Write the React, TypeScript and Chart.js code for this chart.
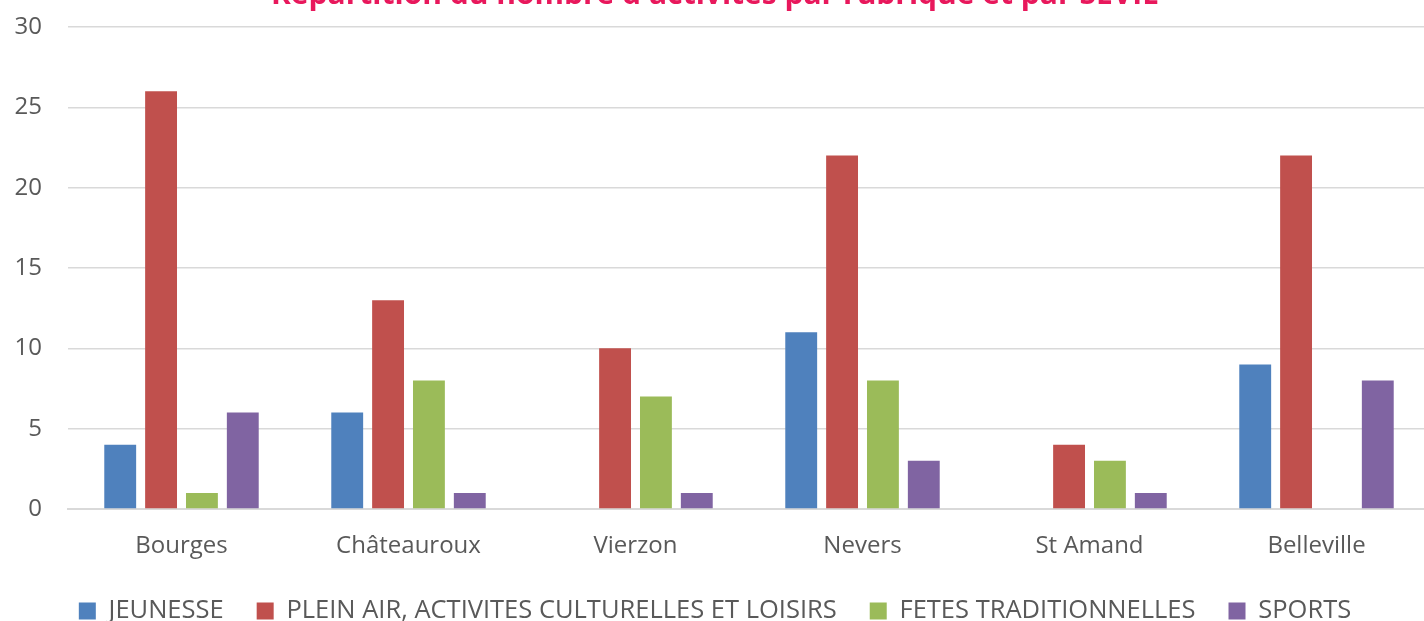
import React, { useEffect, useRef } from "react";
import { Chart, registerables } from "chart.js";

Chart.register(...registerables);

const categories = ["Bourges", "Châteauroux", "Vierzon", "Nevers", "St Amand", "Belleville"];
const jeunesse = [4, 6, 0, 11, 0, 9];
const pleinAir = [26, 13, 10, 22, 4, 22];
const fetes = [1, 8, 7, 8, 3, 0];
const sports = [6, 1, 1, 3, 1, 8];
const seriesNames = [
  "JEUNESSE",
  "PLEIN AIR, ACTIVITES CULTURELLES ET LOISIRS",
  "FETES TRADITIONNELLES",
  "SPORTS",
];
const titleText = "Répartition du nombre d'activités par rubrique et par SEVIE";

export default function App() {
  const ref = useRef<HTMLCanvasElement>(null);
  useEffect(() => {
    if (!ref.current) return;
    const font = "'Open Sans', sans-serif";
    const chart = new Chart(ref.current, {
      type: "bar",
      data: {
        labels: categories,
        datasets: [
          { label: seriesNames[0], data: jeunesse, backgroundColor: "#4F81BD" },
          { label: seriesNames[1], data: pleinAir, backgroundColor: "#C0504D" },
          { label: seriesNames[2], data: fetes, backgroundColor: "#9BBB59" },
          { label: seriesNames[3], data: sports, backgroundColor: "#8064A2" },
        ],
      },
      options: {
        animation: false,
        responsive: false,
        maintainAspectRatio: false,
        layout: { padding: { left: 0, right: 2, top: 0, bottom: -12.75 } },
        datasets: { bar: { barPercentage: 0.78, categoryPercentage: 0.72 } },
        plugins: {
          title: {
            display: true,
            text: titleText,
            color: "#E8185C",
            font: { family: font, size: 30, weight: "bold" },
            padding: { top: 7, bottom: 14 },
          },
          legend: {
            position: "bottom",
            labels: {
              boxWidth: 17,
              boxHeight: 17,
              color: "#595959",
              font: { family: font, size: 25.5 },
              padding: 33,
            },
          },
          tooltip: { enabled: false },
        },
        scales: {
          x: {
            grid: { display: false, drawTicks: false },
            border: { color: "#D9D9D9", width: 2 },
            ticks: { color: "#595959", font: { family: font, size: 24 }, padding: 23 },
            afterFit: (s: any) => {
              s.height = 56.25;
            },
          },
          y: {
            min: 0,
            max: 30,
            ticks: { stepSize: 5, color: "#595959", font: { family: font, size: 24 }, padding: 26 },
            grid: { color: "#D9D9D9", lineWidth: 1.5, drawTicks: false },
            border: { display: false },
            afterFit: (s: any) => {
              s.width = 68;
            },
          },
        },
      },
    });
    return () => chart.destroy();
  }, []);
  return (
    <div style={{ position: "fixed", left: 0, top: 0, width: 1424, height: 621, overflow: "hidden", background: "#fff" }}>
      <div style={{ position: "absolute", left: 0, top: -30, width: 1432, height: 651 }}>
        <canvas ref={ref} width={1432} height={651} style={{ width: 1432, height: 651 }} />
      </div>
    </div>
  );
}
